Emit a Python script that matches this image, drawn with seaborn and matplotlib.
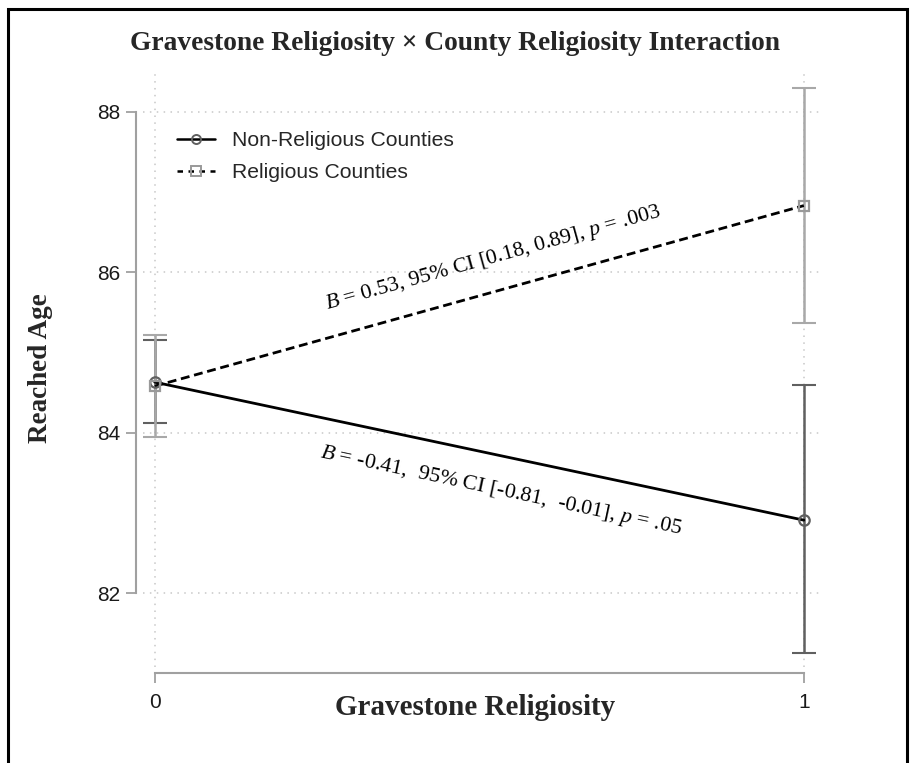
"""Gravestone x county religiosity interaction plot."""

import matplotlib

matplotlib.use("Agg")

import matplotlib.pyplot as plt
import numpy as np
import pandas as pd
import seaborn as sns
from matplotlib.lines import Line2D
from matplotlib.patches import Rectangle

# --- data ---
gravestone = [0, 1]
groups = ["Non-Religious Counties", "Religious Counties"]
nonrel_mean = [84.63, 82.91]
nonrel_lo = [84.12, 81.25]
nonrel_hi = [85.15, 84.59]
rel_mean = [84.58, 86.83]
rel_lo = [83.95, 85.37]
rel_hi = [85.22, 88.29]
y_ticks = [82, 84, 86, 88]
x_ticks = [0, 1]
annot_texts = [
    r"$B$ = -0.41,  95% CI [-0.81,  -0.01], $p$ = .05",
    r"$B$ = 0.53, 95% CI [0.18, 0.89], $p$ = .003",
]

df = pd.DataFrame(
    {
        "gravestone": gravestone * 2,
        "county": [groups[0]] * 2 + [groups[1]] * 2,
        "age": nonrel_mean + rel_mean,
        "lo": nonrel_lo + rel_lo,
        "hi": nonrel_hi + rel_hi,
    }
)

sns.set_theme(style="white")
plt.rcParams.update(
    {
        "font.family": ["Liberation Sans", "DejaVu Sans"],
        "mathtext.fontset": "custom",
        "mathtext.rm": "Liberation Serif",
        "mathtext.it": "Liberation Serif:italic",
    }
)

SERIF = ["Liberation Serif", "DejaVu Serif"]
DARK = "#606060"
LIGHT = "#a8a8a8"

fig = plt.figure(figsize=(9.1, 7.63), dpi=100)
ax = fig.add_axes([143 / 910, 96 / 763, 679 / 910, 597 / 763])

styles = {
    groups[0]: dict(marker="o", ecolor=DARK, mec=DARK, dashes=""),
    groups[1]: dict(marker="s", ecolor=LIGHT, mec="#999999", dashes=(3.2, 1.7)),
}

# confidence intervals
for name, sub in df.groupby("county"):
    st = styles[name]
    ax.errorbar(
        sub["gravestone"],
        sub["age"],
        yerr=[sub["age"] - sub["lo"], sub["hi"] - sub["age"]],
        fmt="none",
        ecolor=st["ecolor"],
        elinewidth=1.8,
        capsize=8.5,
        capthick=1.5,
        zorder=2,
    )

sns.lineplot(
    data=df,
    x="gravestone",
    y="age",
    hue="county",
    style="county",
    palette={g: "black" for g in groups},
    dashes={g: styles[g]["dashes"] for g in groups},
    linewidth=2.0,
    errorbar=None,
    legend=False,
    ax=ax,
    zorder=3,
)

# hollow markers on top
for name, sub in df.groupby("county"):
    st = styles[name]
    ax.plot(
        sub["gravestone"],
        sub["age"],
        linestyle="none",
        marker=st["marker"],
        ms=7.5,
        mfc="none",
        mec=st["mec"],
        mew=1.6,
        zorder=4,
    )

ax.set_xlim(-0.018, 1.028)
ax.set_ylim(81.08, 88.52)
ax.set_xticks(x_ticks)
ax.set_yticks(y_ticks)
ax.grid(True, color="#c8c8c8", linestyle=(0, (1, 3.5)), linewidth=1.1)

sns.despine(ax=ax, offset={"left": 5, "bottom": 4}, trim=True)
for side in ("left", "bottom"):
    ax.spines[side].set_color("#a0a0a0")
    ax.spines[side].set_linewidth(1.5)
ax.tick_params(axis="both", colors="#a0a0a0", length=7.5, width=1.3, labelsize=15,
               labelcolor="#1a1a1a", left=True, bottom=True)
ax.tick_params(axis="y", pad=4)
ax.tick_params(axis="x", pad=7)

ax.set_xlabel("Gravestone Religiosity", family=SERIF, fontweight="bold", fontsize=21)
ax.set_ylabel("Reached Age", family=SERIF, fontweight="bold", fontsize=19.5)
ax.xaxis.set_label_coords(0.489, -0.046)
ax.yaxis.set_label_coords(-0.133, 0.5)

# slope annotations placed parallel to each line
offsets = [-25, 23]
centers = [0.545, 0.535]
for (name, sub), text, off, mx in zip(df.groupby("county"), annot_texts, offsets, centers):
    p = ax.transData.transform(np.column_stack([sub["gravestone"], sub["age"]]))
    angle = np.degrees(np.arctan2(p[1, 1] - p[0, 1], p[1, 0] - p[0, 0]))
    my = sub["age"].iloc[0] + mx * (sub["age"].iloc[1] - sub["age"].iloc[0])
    nx = -np.sin(np.radians(angle)) * off
    ny = np.cos(np.radians(angle)) * off
    ax.annotate(
        text,
        xy=(mx, my),
        xytext=(nx, ny),
        textcoords="offset points",
        ha="center",
        va="center",
        rotation=angle,
        rotation_mode="anchor",
        family=SERIF,
        fontsize=15.8,
        color="black",
    )

handles = [
    Line2D([], [], color="black", lw=1.8, marker="o", ms=6.5, mfc="none", mec=DARK, mew=1.4),
    Line2D([], [], color="black", lw=1.8, linestyle=(0, (2.2, 2.2)), marker="s", ms=6.5,
           mfc="none", mec="#999999", mew=1.4),
]
ax.legend(
    handles,
    groups,
    loc="upper left",
    bbox_to_anchor=(0.038, 0.912),
    frameon=False,
    fontsize=15.2,
    handlelength=1.8,
    handletextpad=0.8,
    labelspacing=0.62,
    borderaxespad=0,
)

fig.suptitle(
    "Gravestone Religiosity × County Religiosity Interaction",
    x=0.5,
    y=1 - 44 / 763,
    va="center",
    family=SERIF,
    fontweight="bold",
    fontsize=19.8,
)

# black frame around the figure
fig.patches.append(
    Rectangle((8 / 910, -0.01), 899 / 910, 1.01 - 9 / 763, transform=fig.transFigure,
              fill=False, edgecolor="black", linewidth=2.2)
)

fig.savefig("out.png", dpi=100)
